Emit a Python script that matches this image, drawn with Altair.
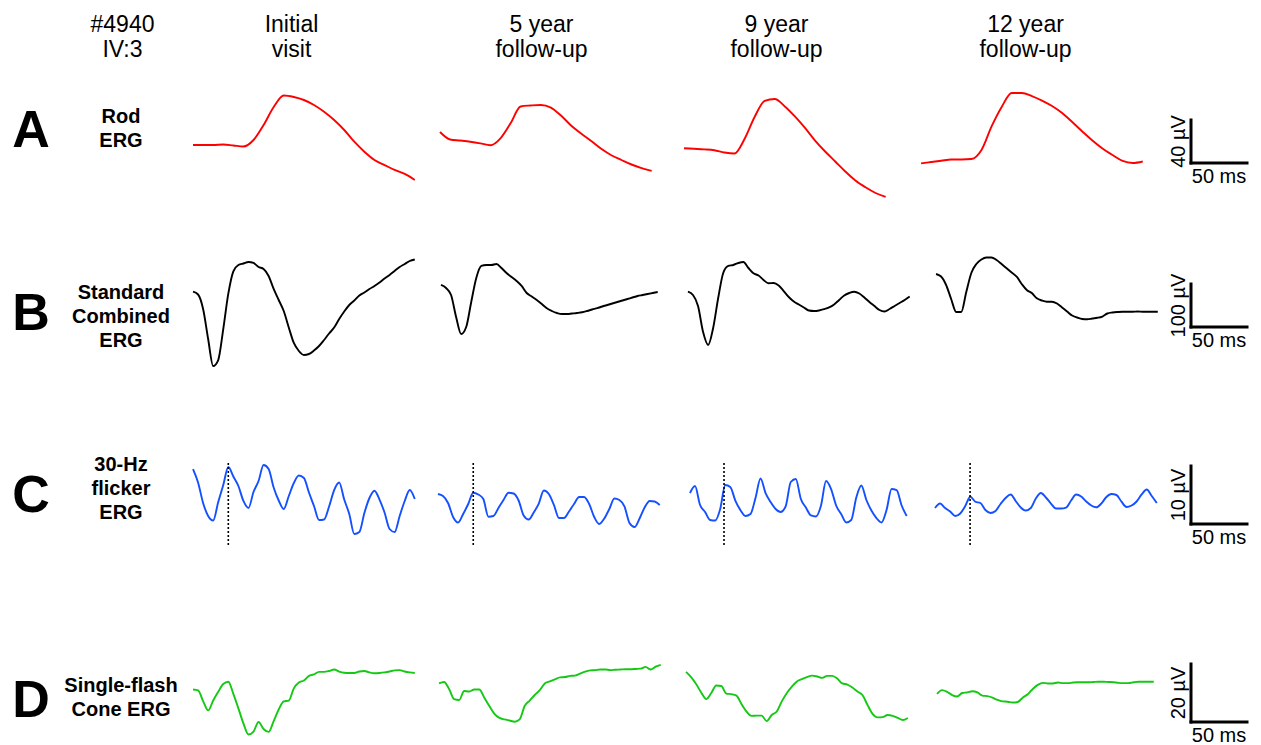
import altair as alt
import pandas as pd

# ------------------------------------------------------------------
# DATA  (amplitudes in µV, relative to the scale-bar foot of each row)
# ------------------------------------------------------------------
ROW_NAMES = [["Rod", "ERG"], ["Standard", "Combined", "ERG"],
             ["30-Hz", "flicker", "ERG"], ["Single-flash", "Cone ERG"]]
ROW_LETTERS = ["A", "B", "C", "D"]
VISITS = [["Initial", "visit"], ["5 year", "follow-up"],
          ["9 year", "follow-up"], ["12 year", "follow-up"]]
PATIENT = ["#4940", "IV:3"]
SCALE_UV = [40, 100, 10, 20]          # vertical calibration bars (µV)
SCALE_MS = 50                          # horizontal calibration bar (ms)
SAMPLE_MS = [9.0, 4.5, 4.5, 4.5]

ROD = [
    [16.7, 16.7, 16.7, 17.2, 16.3, 15.3, 21.4, 35.3, 52.1, 62.8, 61.4, 58.6, 54.0, 47.7,
     40.0, 30.7, 19.8, 10.5, 2.8, -1.9, -6.5, -10.2, -15.8],
    [28.8, 21.9, 20.9, 19.8, 18.3, 16.5, 23.0, 36.9, 52.6, 53.5, 54.0, 51.6, 44.2, 34.9,
     27.4, 20.5, 13.2, 7.2, 2.8, -1.4, -4.7, -7.3],
    [13.7, 13.2, 12.7, 11.9, 9.8, 8.8, 22.3, 42.8, 57.7, 59.5, 52.6, 43.3, 32.6, 20.9,
     10.7, 1.4, -7.9, -16.3, -22.6, -27.9, -31.6],
    [-0.3, 0.9, 2.1, 3.3, 3.3, 3.7, 12.1, 34.0, 52.1, 65.1, 65.1, 62.3, 58.1, 53.0, 46.5,
     38.1, 29.3, 20.9, 13.5, 7.4, 1.9, 0.0, 1.4],
]

COMBINED = [
    [82.1, 75.6, 41.9, -27.9, -90.7, -76.8, -4.7, 77.5, 129.6, 144.2, 147.7, 151.2, 148.9,
     139.6, 134.9, 118.6, 88.4, 62.8, 37.2, -1.2, -37.2, -55.8, -65.1, -62.8, -54.7, -44.2,
     -30.2, -15.1, -1.2, 18.6, 36.1, 51.2, 61.6, 73.3, 80.2, 88.4, 95.4, 103.5, 112.8,
     121.0, 130.3, 139.6, 146.5, 153.5, 157.0],
    [97.7, 90.7, 74.4, 23.3, -16.3, 0.0, 58.2, 114.0, 141.9, 144.2, 144.2, 146.5, 137.2,
     125.6, 116.3, 107.0, 95.4, 79.1, 70.9, 62.8, 53.5, 43.5, 37.2, 32.6, 30.2, 30.2, 31.4,
     32.6, 34.2, 37.2, 40.7, 43.7, 47.7, 51.2, 54.7, 58.2, 61.6, 65.1, 68.6, 72.1, 74.4,
     76.8, 79.1, 81.4],
    [82.1, 74.4, 48.8, -11.6, -41.9, -2.3, 67.5, 125.6, 141.9, 144.2, 148.9, 151.2, 137.2,
     124.9, 119.8, 109.3, 101.6, 102.3, 96.5, 83.7, 69.8, 59.3, 52.3, 45.4, 38.4, 37.2,
     38.4, 41.4, 45.4, 52.3, 62.8, 73.3, 79.1, 82.1, 77.9, 68.6, 58.2, 48.8, 39.5, 36.1,
     41.9, 48.8, 55.8, 62.8, 70.9],
    [123.3, 117.5, 97.7, 65.1, 34.9, 34.9, 81.4, 125.6, 146.5, 157.0, 161.7, 161.7, 155.8,
     146.5, 136.5, 126.8, 117.0, 100.0, 86.1, 79.1, 66.8, 61.6, 58.8, 58.8, 54.7, 45.4,
     36.1, 26.7, 22.1, 18.6, 17.9, 19.8, 21.4, 24.4, 31.4, 33.7, 34.9, 35.6, 35.6, 35.6,
     36.1, 35.6, 35.6, 35.6, 35.6],
]

FLICKER = [
    [9.48, 7.16, 3.62, 1.38, 0.60, 3.79, 6.72, 9.83, 8.19, 6.55, 3.97, 2.76, 5.52, 7.41,
     10.17, 9.48, 6.29, 4.05, 2.59, 4.83, 7.07, 8.36, 7.93, 5.43, 3.10, 0.69, 0.78, 3.02,
     5.86, 7.16, 4.22, 1.72, -1.72, -1.38, 1.90, 4.48, 5.74, 4.22, 1.98, -0.86, -1.38,
     1.38, 3.97, 5.86, 4.31],
    [5.17, 4.83, 3.62, 1.21, 0.26, 1.72, 3.45, 5.40, 5.09, 4.31, 1.26, 1.38, 2.76, 4.14,
     5.40, 5.26, 4.05, 1.47, 0.78, 1.98, 3.53, 5.78, 5.17, 3.28, 1.03, 1.03, 2.16, 3.45,
     4.66, 4.66, 3.45, 1.21, 0.00, 0.95, 2.59, 4.40, 4.14, 3.02, 0.17, -0.52, 0.95, 2.84,
     3.97, 3.88, 3.28],
    [5.34, 6.55, 3.28, 2.07, 0.69, 0.60, 2.59, 6.72, 6.38, 4.05, 2.41, 1.38, 1.72, 4.48,
     7.84, 5.34, 3.79, 2.59, 2.07, 3.10, 7.24, 7.76, 4.31, 2.84, 1.47, 1.29, 3.19, 7.41,
     6.03, 3.19, 1.72, 0.26, 0.69, 4.57, 6.64, 4.14, 2.33, 1.03, 0.26, 2.41, 6.03, 5.86,
     3.19, 1.38],
    [2.76, 3.53, 2.76, 2.16, 1.38, 1.81, 3.10, 4.71, 3.84, 3.62, 2.41, 1.90, 2.24, 3.45,
     4.48, 5.09, 3.97, 2.84, 2.33, 2.76, 4.40, 5.34, 4.57, 3.53, 2.67, 2.67, 2.84, 4.05,
     5.09, 4.74, 3.88, 3.19, 2.88, 3.53, 4.66, 5.17, 5.00, 3.84, 2.93, 3.19, 3.88, 5.09,
     5.95, 4.83, 3.62],
]
FLICKER_MARK_MS = [31.5, 31.5, 30.4, 31.3]   # dotted time markers (ms from trace start)
FLICKER_MARK_UV = [-3.6, 10.8]

CONE = [
    [11.2, 10.9, 7.2, 4.0, 7.4, 10.4, 13.1, 13.9, 9.7, 4.7, -0.5, -4.3, -3.3, 0.0, -2.4,
     -3.4, 0.3, 4.3, 7.1, 7.4, 11.6, 13.6, 14.3, 15.9, 16.4, 17.3, 17.3, 17.6, 18.1, 17.4,
     17.0, 16.9, 16.9, 17.4, 17.6, 17.1, 16.8, 16.9, 17.1, 17.4, 17.8, 17.9, 17.4, 17.1,
     16.9],
    [13.3, 13.8, 11.4, 7.9, 7.6, 10.7, 10.5, 11.2, 11.2, 8.4, 5.5, 2.8, 1.4, 0.9, 0.5, 0.1,
     0.9, 5.5, 7.4, 9.3, 11.0, 13.3, 14.0, 14.7, 15.4, 15.5, 15.9, 16.0, 16.7, 17.4, 17.8,
     17.9, 18.1, 18.1, 17.9, 18.0, 18.1, 18.2, 18.2, 18.3, 18.4, 19.0, 18.1, 19.1, 19.7],
    [17.3, 15.5, 13.1, 10.2, 7.9, 10.0, 12.6, 12.4, 9.8, 9.6, 9.1, 6.2, 3.6, 2.1, 2.2, 2.2,
     0.3, 2.4, 3.6, 7.1, 10.0, 12.2, 14.0, 14.8, 15.5, 16.0, 15.7, 15.2, 15.9, 15.9, 15.0,
     13.3, 12.9, 11.9, 10.5, 9.3, 5.9, 2.8, 1.6, 1.7, 2.4, 2.1, 1.4, 0.7, 1.4],
    [9.7, 11.0, 10.4, 9.3, 8.8, 10.0, 10.2, 10.6, 10.2, 9.1, 8.9, 8.4, 7.6, 7.1, 7.0, 6.7,
     6.9, 8.4, 9.6, 11.4, 12.8, 13.5, 13.3, 13.3, 13.6, 13.4, 13.4, 13.6, 13.7, 13.7, 13.7,
     13.8, 13.9, 13.9, 13.8, 13.7, 13.5, 13.4, 13.4, 13.7, 13.9, 13.9, 13.9, 13.9],
]

SERIES = [ROD, COMBINED, FLICKER, CONE]

# ------------------------------------------------------------------
# LAYOUT (page pixels / display gains)
# ------------------------------------------------------------------
PX_PER_MS = 1.12
PLOT_W = 1245
ROW_TOP = [8, 215, 410, 600]
ROW_BOTTOM = [215, 410, 600, 737]
BAR_FOOT_PX = [163, 327, 524, 722]
PX_PER_UV = [1.075, 0.43, 5.8, 2.9]
COLORS = ["#ff0000", "#000000", "#1450ff", "#14c814"]
# trace onset on the common time axis (ms)
ONSETS = [[165.2, 385.7, 603.6, 815.2],
          [165.2, 386.6, 607.1, 828.6],
          [165.2, 383.9, 608.9, 827.7],
          [165.2, 384.8, 605.4, 829.5]]
BAR_X_MS = (1191 - 8) / PX_PER_MS

HEADER_X = [122.5, 291.5, 541.5, 776.5, 1025.5]
HEADER_Y = [31.5, 56.5]
LETTER_X = 31
NAME_X = 121
LETTER_Y = [147, 330, 512, 717]
NAME_Y = [[123, 147], [299, 323, 347], [471, 495, 519], [692, 716]]

FONT = "Liberation Sans"
ONE = pd.DataFrame({"k": [0]})


def text_at(s, px, py, size, bold=False):
    return alt.Chart(ONE).mark_text(
        text=s, font=FONT, fontSize=size, fontWeight="bold" if bold else "normal",
        align="center", baseline="alphabetic", color="black"
    ).encode(x=alt.value(px), y=alt.value(py))


rows = []
for r in range(4):
    top, bottom, foot, k = ROW_TOP[r], ROW_BOTTOM[r], BAR_FOOT_PX[r], PX_PER_UV[r]
    xs = alt.Scale(domain=[0, PLOT_W / PX_PER_MS], nice=False, zero=False)
    ys = alt.Scale(domain=[(foot - bottom) / k, (foot - top) / k], nice=False, zero=False)

    recs = []
    for c, vals in enumerate(SERIES[r]):
        for i, v in enumerate(vals):
            recs.append({"trace": c, "t": ONSETS[r][c] + i * SAMPLE_MS[r], "v": v})
    df = pd.DataFrame(recs)

    lines = alt.Chart(df).mark_line(
        color=COLORS[r], strokeWidth=1.9, strokeJoin="round", interpolate="monotone"
    ).encode(
        x=alt.X("t:Q", scale=xs, axis=None),
        y=alt.Y("v:Q", scale=ys, axis=None),
        detail="trace:N",
        order="t:Q",
    )
    layers = [lines]

    if r == 2:
        mk = pd.DataFrame({
            "t": [ONSETS[r][c] + FLICKER_MARK_MS[c] for c in range(4)],
            "lo": [FLICKER_MARK_UV[0]] * 4,
            "hi": [FLICKER_MARK_UV[1]] * 4,
        })
        layers.append(alt.Chart(mk).mark_rule(
            color="black", strokeWidth=1.6, strokeDash=[2, 2]
        ).encode(x=alt.X("t:Q", scale=xs, axis=None),
                 y=alt.Y("lo:Q", scale=ys, axis=None), y2="hi:Q"))

    bars = pd.DataFrame({
        "x": [BAR_X_MS, BAR_X_MS],
        "x2": [BAR_X_MS, BAR_X_MS + SCALE_MS],
        "y": [0, 0],
        "y2": [SCALE_UV[r], 0],
    })
    layers.append(alt.Chart(bars).mark_rule(
        color="black", strokeWidth=3, strokeCap="square"
    ).encode(x=alt.X("x:Q", scale=xs, axis=None), x2="x2:Q",
             y=alt.Y("y:Q", scale=ys, axis=None), y2="y2:Q"))

    ms_lab = pd.DataFrame({"x": [BAR_X_MS + SCALE_MS / 2], "y": [0],
                           "txt": [f"{SCALE_MS} ms"]})
    layers.append(alt.Chart(ms_lab).mark_text(
        font=FONT, fontSize=20, align="center", baseline="alphabetic", dy=20, color="black"
    ).encode(x=alt.X("x:Q", scale=xs, axis=None), y=alt.Y("y:Q", scale=ys, axis=None),
             text="txt:N"))
    uv_lab = pd.DataFrame({"x": [BAR_X_MS - 12.5 / PX_PER_MS], "y": [SCALE_UV[r] / 2],
                           "txt": [f"{SCALE_UV[r]} µV"]})
    layers.append(alt.Chart(uv_lab).mark_text(
        font=FONT, fontSize=20, align="center", baseline="middle", angle=270, color="black"
    ).encode(x=alt.X("x:Q", scale=xs, axis=None), y=alt.Y("y:Q", scale=ys, axis=None),
             text="txt:N"))

    # row letter and row name
    layers.append(text_at(ROW_LETTERS[r], LETTER_X - 8, LETTER_Y[r] - top, 52, bold=True))
    for line, yy in zip(ROW_NAMES[r], NAME_Y[r]):
        layers.append(text_at(line, NAME_X - 8, yy - top, 20, bold=True))

    if r == 0:
        heads = [PATIENT] + VISITS
        for hx, lines_ in zip(HEADER_X, heads):
            for line, yy in zip(lines_, HEADER_Y):
                layers.append(text_at(line, hx - 8, yy - top, 23))

    rows.append(alt.layer(*layers).properties(width=PLOT_W, height=bottom - top))

chart = (
    alt.vconcat(*rows, spacing=0, bounds="flush")
    .properties(padding=0, background="white")
    .configure_view(stroke=None)
)
chart.save("out.html", embed_options={"renderer": "svg", "actions": False})
